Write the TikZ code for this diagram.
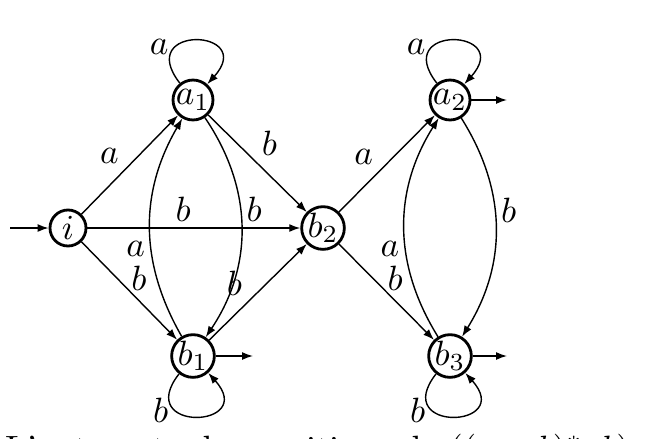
\documentclass[tikz,border=0pt]{standalone}
\usepackage{amsmath,amssymb}
\usetikzlibrary{arrows.meta}
\tikzset{
  >={Latex[length=1.1mm,width=0.8mm]},
  st/.style={circle,draw,line width=0.8pt,minimum size=3.6mm,inner sep=0pt},
  lb/.style={inner sep=1.6pt},
  loopup/.style={out=128,in=48,distance=7.5mm},
  loopdown/.style={out=232,in=312,distance=7.5mm}
}

\begin{document}
\begin{tikzpicture}
  \useasboundingbox (0,0) rectangle (6.53,4.38);
  % ---- states ----
  \node[st] (i) at (0.68,2.10) {$i$};
  \node[st] (a1) at (1.93,3.38) {$a_1$};
  \node[st] (b1) at (1.93,0.82) {$b_1$};
  \node[st] (b2) at (3.23,2.10) {$b_2$};
  \node[st] (a2) at (4.50,3.38) {$a_2$};
  \node[st] (b3) at (4.50,0.82) {$b_3$};

  % ---- initial / final ----
  \coordinate (start) at (0.10,2.10);
  \coordinate (fb1) at (2.53,0.82);
  \coordinate (fa2) at (5.07,3.38);
  \coordinate (fb3) at (5.07,0.82);
  \draw[->] (start) -- (i);
  \draw[->] (b1) -- (fb1);
  \draw[->] (a2) -- (fa2);
  \draw[->] (b3) -- (fb3);

  % ---- transitions ----
  \draw[->] (i) -- node[above left,lb,pos=0.45]{$a$} (a1);
  \draw[->] (i) -- node[above right,lb,pos=0.56,xshift=-1mm]{$b$} (b1);
  \draw[->] (i) -- node[above,lb,pos=0.45]{$b$} (b2);
  \draw[->] (a1) -- node[above right,lb,pos=0.48]{$b$} (b2);
  \draw[->] (b1) -- node[above left,lb,pos=0.4]{$b$} (b2);
  \draw[->] (b1) to[bend left=30] node[left,lb,pos=0.4]{$a$} (a1);
  \draw[->] (a1) to[bend left=34] node[right,lb,pos=0.42]{$b$} (b1);
  \draw[->] (a1) to[loopup] node[left,lb,pos=0.3]{$a$} (a1);
  \draw[->] (b1) to[loopdown] node[left,lb,pos=0.3]{$b$} (b1);

  \draw[->] (b2) -- node[above left,lb,pos=0.42]{$a$} (a2);
  \draw[->] (b2) -- node[above right,lb,pos=0.55,xshift=-1mm]{$b$} (b3);
  \draw[->] (b3) to[bend left=32] node[left,lb,pos=0.4]{$a$} (a2);
  \draw[->] (a2) to[bend left=32] node[right,lb,pos=0.42]{$b$} (b3);
  \draw[->] (a2) to[loopup] node[left,lb,pos=0.3]{$a$} (a2);
  \draw[->] (b3) to[loopdown] node[left,lb,pos=0.3]{$b$} (b3);

  % ---- caption (cut by the frame) ----
  \node[anchor=base west,inner sep=0pt] (cap) at (0.05,-0.22)
    {L'automate des positions de $((a+b)^*ab)\cdot($};
\end{tikzpicture}
\end{document}
